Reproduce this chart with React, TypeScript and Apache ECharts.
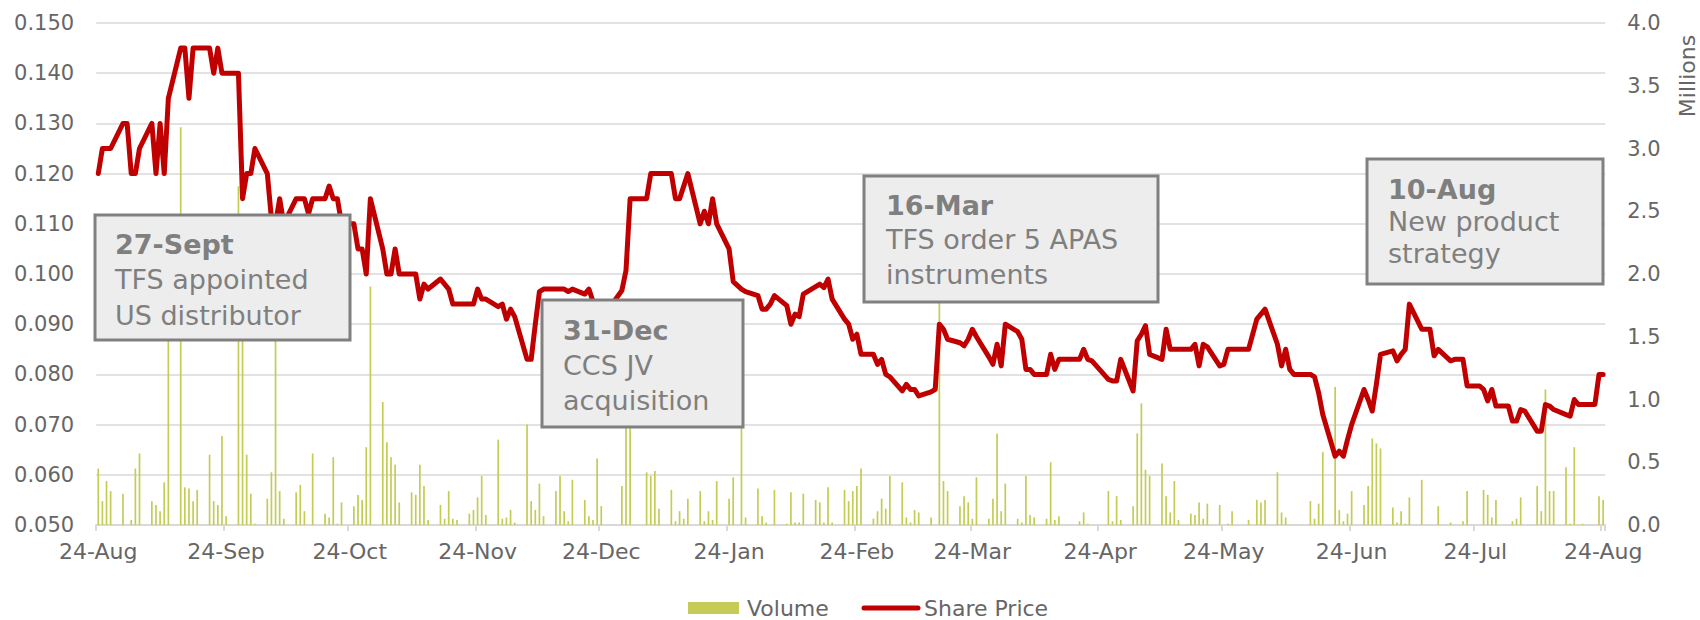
import React, { useEffect, useRef } from "react";
import * as echarts from "echarts";

// ---------- DATA ----------
// Daily axis: 24-Aug-2021 .. 24-Aug-2022 (366 calendar days). Values are given per weekday (Mon-Fri), null = market holiday.
const START_DATE = "2021-08-24";
const DAY_COUNT = 366;
const MONTH_NAMES = ["Jan", "Feb", "Mar", "Apr", "May", "Jun", "Jul", "Aug", "Sep", "Oct", "Nov", "Dec"];

// Share price (A$), one inner array per trading week
const PRICE_WEEKS: (number | null)[][] = [
  [0.12, 0.125, 0.125, 0.125],
  [0.13, 0.13, 0.12, 0.12, 0.125],
  [0.13, 0.12, 0.13, 0.12, 0.135],
  [0.145, 0.145, 0.135, 0.145, 0.145],
  [0.145, 0.14, 0.145, 0.14, 0.14],
  [0.14, 0.115, 0.12, 0.12, 0.125],
  [0.12, 0.111, 0.11, 0.115, 0.11],
  [0.115, 0.115, 0.115, 0.112, 0.115],
  [0.115, 0.1175, 0.115, 0.115, 0.11],
  [0.11, 0.105, 0.105, 0.1, 0.115],
  [0.105, 0.1, 0.1, 0.105, 0.1],
  [0.1, 0.1, 0.095, 0.098, 0.097],
  [0.099, 0.098, 0.097, 0.094, 0.094],
  [0.094, 0.094, 0.097, 0.095, 0.095],
  [0.0935, 0.094, 0.091, 0.093, 0.0915],
  [0.083, 0.083, 0.09, 0.0965, 0.097],
  [0.097, 0.097, 0.097, 0.0965, 0.097],
  [0.096, 0.097, 0.0945, 0.092, 0.091],
  [null, null, 0.0967, 0.1007, 0.115],
  [null, 0.115, 0.12, 0.12, 0.12],
  [0.12, 0.115, 0.115, 0.1175, 0.12],
  [0.11, 0.1125, 0.11, 0.115, 0.11],
  [0.105, 0.0985, null, 0.097, 0.0965],
  [0.0957, 0.093, 0.093, 0.094, 0.0957],
  [0.0937, 0.09, 0.092, 0.0915, 0.096],
  [0.0975, 0.098, 0.0973, 0.099, 0.095],
  [0.091, 0.09, 0.087, 0.088, 0.084],
  [0.084, 0.082, 0.083, 0.08, 0.0795],
  [0.0767, 0.078, 0.077, 0.077, 0.0757],
  [0.0765, 0.077, 0.09, 0.089, 0.087],
  [0.0863, 0.0857, 0.087, 0.089, 0.0875],
  [0.0835, 0.082, 0.086, 0.0817, 0.09],
  [0.0885, 0.087, 0.081, 0.081, 0.08],
  [0.08, 0.084, 0.081, 0.083, null],
  [null, 0.083, 0.085, 0.083, 0.0827],
  [null, 0.079, 0.0787, 0.0787, 0.083],
  [0.0767, 0.0867, 0.088, 0.0897, 0.084],
  [0.083, 0.089, 0.085, 0.085, 0.085],
  [0.085, 0.086, 0.0817, 0.086, 0.0855],
  [0.0817, 0.082, 0.085, 0.085, 0.085],
  [0.085, 0.088, 0.091, 0.092, 0.093],
  [0.086, 0.0817, 0.085, 0.081, 0.08],
  [null, 0.08, 0.0795, 0.0763, 0.072],
  [0.0637, 0.0647, 0.0637, 0.067, 0.07],
  [0.077, 0.075, 0.0727, 0.078, 0.084],
  [0.0847, 0.0827, 0.084, 0.085, 0.094],
  [0.089, 0.089, 0.089, 0.0837, 0.085],
  [0.0827, 0.083, 0.083, 0.083, 0.0777],
  [0.0777, 0.077, 0.0747, 0.077, 0.0737],
  [0.0737, 0.0707, 0.0707, 0.073, 0.0727],
  [0.0687, 0.0687, 0.074, 0.0737, 0.073],
  [0.072, 0.0717, 0.075, 0.074, 0.074],
  [0.074, 0.08, 0.08],
];

// Volume (millions of shares), one inner array per trading week
const VOLUME_WEEKS: number[][] = [
  [0.45, 0.19, 0.35, 0.27],
  [0.25, 0, 0.04, 0.45, 0.57],
  [0.19, 0.16, 0.11, 0.34, 2.0],
  [3.17, 0.3, 0.29, 0.19, 0.28],
  [0.56, 0.19, 0.16, 0.71, 0.07],
  [2.7, 1.8, 0.56, 0.25, 0.01],
  [0.21, 0.42, 1.7, 0.27, 0.05],
  [0.26, 0.32, 0.11, 0, 0.57],
  [0.09, 0.06, 0.54, 0.01, 0.18],
  [0.15, 0.24, 0.2, 0.62, 1.9],
  [0.98, 0.66, 0.54, 0.48, 0.18],
  [0.26, 0.24, 0.48, 0.31, 0.04],
  [0.16, 0.05, 0.27, 0.05, 0.04],
  [0.09, 0.12, 0.22, 0.39, 0.08],
  [0.68, 0.05, 0.06, 0.12, 0.02],
  [0.8, 0.19, 0.12, 0.33, 0.07],
  [0.27, 0.39, 0.11, 0.03, 0.36],
  [0.2, 0.07, 0.04, 0.53, 0.15],
  [0, 0, 0.31, 1.3, 1.2],
  [0, 0.42, 0.39, 0.43, 0.13],
  [0.28, 0.03, 0.11, 0.05, 0.21],
  [0.27, 0.03, 0.11, 0.04, 0.35],
  [0.21, 0.38, 0, 1.1, 0.06],
  [0.29, 0.07, 0.02, 0, 0.28],
  [0.01, 0.26, 0.02, 0.02, 0.25],
  [0.2, 0.18, 0.02, 0.3, 0.02],
  [0.28, 0.19, 0.27, 0.31, 0.45],
  [0.05, 0.11, 0.21, 0.13, 0.39],
  [0.34, 0.06, 0.02, 0.12, 0.1],
  [0.06, 0, 2.2, 0.35, 0.27],
  [0.15, 0.23, 0.18, 0.05, 0.38],
  [0.05, 0.21, 0.73, 0.11, 0.33],
  [0.05, 0.02, 0.39, 0.08, 0.06],
  [0.05, 0.5, 0.04, 0.07, 0],
  [0, 0.03, 0.1, 0.01, 0],
  [0, 0.27, 0.03, 0.23, 0.04],
  [0.15, 0.73, 0.97, 0.44, 0.39],
  [0.49, 0.23, 0.1, 0.35, 0.04],
  [0.09, 0.08, 0.18, 0.05, 0.17],
  [0.16, 0, 0.01, 0.11, 0],
  [0.04, 0, 0.2, 0.18, 0.2],
  [0.42, 0.1, 0.06, 0, 0],
  [0, 0.19, 0.05, 0.17, 0.58],
  [1.1, 0.12, 0.03, 0.09, 0.27],
  [0.16, 0.31, 0.69, 0.65, 0.61],
  [0.14, 0.02, 0.11, 0.01, 0.22],
  [0.36, 0, 0, 0, 0.15],
  [0.02, 0, 0, 0.03, 0.27],
  [0, 0.28, 0.24, 0.06, 0.2],
  [0, 0.03, 0.05, 0.22, 0],
  [0.31, 0.11, 1.08, 0.27, 0.27],
  [0.46, 0.01, 0.62, 0, 0.01],
  [0, 0.23, 0.2],
];

const PRICE_AXIS = { min: 0.05, max: 0.15, interval: 0.01 };
const VOLUME_AXIS = { min: 0, max: 4, interval: 0.5 };
const SERIES_NAMES = { volume: "Volume", price: "Share Price" };
const VOLUME_UNIT = "Millions";

const ANNOTATIONS = [
  { title: "27-Sept", lines: ["TFS appointed", "US distributor"] },
  { title: "31-Dec", lines: ["CCS JV", "acquisition"] },
  { title: "16-Mar", lines: ["TFS order 5 APAS", "instruments"] },
  { title: "10-Aug", lines: ["New product", "strategy"] },
];

// ---------- LAYOUT / STYLE ----------
const BOX_LAYOUT = [
  { x: 95, y: 215, w: 255, h: 125, tx: 115, ty: [244, 279, 315] },
  { x: 542, y: 300, w: 201, h: 127, tx: 563, ty: [330, 365, 400] },
  { x: 864, y: 176, w: 294, h: 126, tx: 886, ty: [205, 239, 274] },
  { x: 1367, y: 159, w: 236, h: 125, tx: 1388, ty: [189, 221, 253] },
];
const LEGEND_LAYOUT = { y: 608, rectX: 688, rectW: 51, rectH: 12, volTextX: 747, lineX1: 864, lineX2: 918, priceTextX: 924 };

const FONT = "DejaVu Sans";
const AXIS_TEXT = "#666666";
const BOX_TEXT = "#7F7F7F";
const GRID_COLOR = "#D9D9D9";
const BAR_COLOR = "#C4CC55";
const LINE_COLOR = "#C00000";

function buildOption() {
  const startMs = Date.parse(START_DATE + "T00:00:00Z");
  const flatPrice = PRICE_WEEKS.flat();
  const flatVolume = VOLUME_WEEKS.flat();
  const dates: string[] = [];
  const price: (number | null)[] = [];
  const volume: (number | null)[] = [];
  let k = 0;
  for (let d = 0; d < DAY_COUNT; d++) {
    const dt = new Date(startMs + d * 86400000);
    dates.push(dt.toISOString().slice(0, 10));
    const wd = dt.getUTCDay();
    if (wd === 0 || wd === 6) {
      price.push(null);
      volume.push(null);
    } else {
      price.push(flatPrice[k] ?? null);
      volume.push(flatVolume[k] ?? null);
      k++;
    }
  }

  const isTickDay = (_i: number, v: string) => v.slice(8, 10) === "24";
  const fmtDate = (v: string) => {
    const dt = new Date(v + "T00:00:00Z");
    return dt.getUTCDate() + "-" + MONTH_NAMES[dt.getUTCMonth()];
  };

  const txt = (text: string, x: number, y: number, size: number, color: string, extra: any = {}) => ({
    type: "text",
    z: 101,
    x,
    y,
    ...extra,
    style: {
      text,
      fill: color,
      fontFamily: FONT,
      fontSize: size,
      fontWeight: extra.bold ? "bold" : "normal",
      align: extra.align || "left",
      textAlign: extra.align || "left",
      verticalAlign: "middle",
      textVerticalAlign: "middle",
    },
  });

  const graphics: any[] = [];
  ANNOTATIONS.forEach((a, i) => {
    const b = BOX_LAYOUT[i];
    graphics.push({
      type: "rect",
      z: 100,
      shape: { x: b.x, y: b.y, width: b.w, height: b.h },
      style: { fill: "#EDEDED", stroke: "#808080", lineWidth: 3 },
    });
    [a.title, ...a.lines].forEach((t, j) => {
      graphics.push(txt(t, b.tx, b.ty[j], 27, BOX_TEXT, { bold: j === 0 }));
    });
  });

  // axis unit
  graphics.push(txt(VOLUME_UNIT, 1687, 76, 22, AXIS_TEXT, { rotation: Math.PI / 2, align: "center" }));

  // legend (drawn manually for exact icon shapes)
  const L = LEGEND_LAYOUT;
  graphics.push({
    type: "rect",
    z: 100,
    shape: { x: L.rectX, y: L.y - L.rectH / 2, width: L.rectW, height: L.rectH },
    style: { fill: BAR_COLOR },
  });
  graphics.push(txt(SERIES_NAMES.volume, L.volTextX, L.y, 22, AXIS_TEXT));
  graphics.push({
    type: "line",
    z: 100,
    shape: { x1: L.lineX1, y1: L.y, x2: L.lineX2, y2: L.y },
    style: { stroke: LINE_COLOR, lineWidth: 5, lineCap: "round" },
  });
  graphics.push(txt(SERIES_NAMES.price, L.priceTextX, L.y, 22, AXIS_TEXT));

  return {
    animation: false,
    backgroundColor: "#FFFFFF",
    textStyle: { fontFamily: FONT },
    grid: { left: 96.2, right: 94.8, top: 23, bottom: 95, containLabel: false },
    legend: { show: false },
    xAxis: {
      type: "category",
      data: dates,
      boundaryGap: true,
      axisLine: { show: true, lineStyle: { color: GRID_COLOR, width: 2 } },
      axisTick: { show: true, interval: isTickDay, length: 6, lineStyle: { color: GRID_COLOR, width: 2 } },
      axisLabel: {
        interval: isTickDay,
        formatter: fmtDate,
        color: AXIS_TEXT,
        fontSize: 22,
        fontFamily: FONT,
        margin: 15,
      },
      splitLine: { show: false },
    },
    yAxis: [
      {
        type: "value",
        min: PRICE_AXIS.min,
        max: PRICE_AXIS.max,
        interval: PRICE_AXIS.interval,
        axisLine: { show: false },
        axisTick: { show: false },
        axisLabel: {
          formatter: (v: number) => v.toFixed(3),
          color: AXIS_TEXT,
          fontSize: 21,
          fontFamily: FONT,
          margin: 22,
        },
        splitLine: { show: true, lineStyle: { color: GRID_COLOR, width: 1.5 } },
      },
      {
        type: "value",
        position: "right",
        min: VOLUME_AXIS.min,
        max: VOLUME_AXIS.max,
        interval: VOLUME_AXIS.interval,
        axisLine: { show: false },
        axisTick: { show: false },
        axisLabel: {
          formatter: (v: number) => v.toFixed(1),
          color: AXIS_TEXT,
          fontSize: 21,
          fontFamily: FONT,
          margin: 22,
        },
        splitLine: { show: false },
      },
    ],
    series: [
      {
        name: SERIES_NAMES.volume,
        type: "bar",
        yAxisIndex: 1,
        data: volume,
        barWidth: 1.7,
        itemStyle: { color: BAR_COLOR },
        z: 2,
      },
      {
        name: SERIES_NAMES.price,
        type: "line",
        yAxisIndex: 0,
        data: price,
        connectNulls: true,
        symbol: "none",
        showSymbol: false,
        color: LINE_COLOR,
        lineStyle: { color: LINE_COLOR, width: 5, cap: "round", join: "round" },
        z: 3,
      },
    ],
    graphic: { elements: graphics },
  };
}

export default function App() {
  const ref = useRef<HTMLDivElement>(null);
  useEffect(() => {
    document.body.style.margin = "0";
    const chart = echarts.init(ref.current as HTMLDivElement, null, { renderer: "svg" });
    chart.setOption(buildOption() as any);
    return () => {
      chart.dispose();
    };
  }, []);
  return <div ref={ref} style={{ width: 1700, height: 620 }} />;
}
